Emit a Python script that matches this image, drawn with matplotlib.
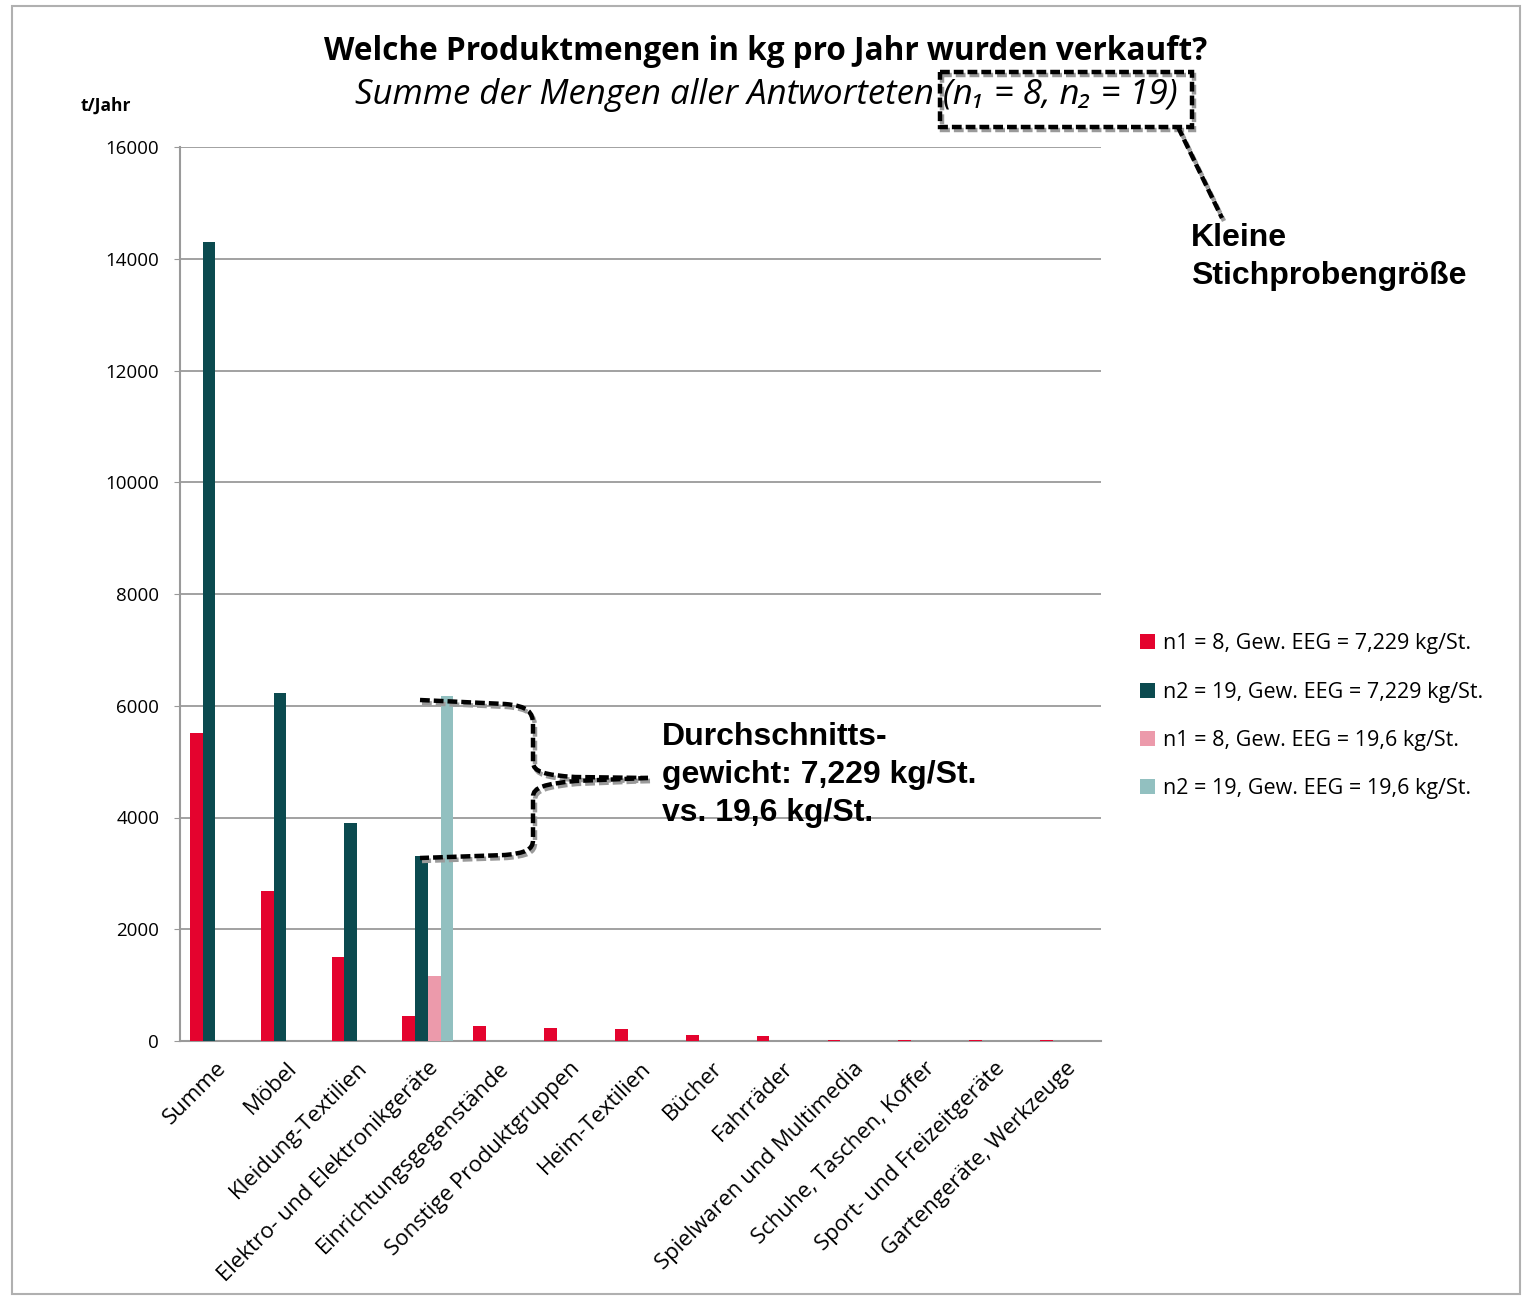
import matplotlib
matplotlib.use('Agg')
import matplotlib.pyplot as plt
import numpy as np
from matplotlib.path import Path
from matplotlib.patches import PathPatch, Rectangle

# Daten
kategorien = ['Summe', 'Möbel', 'Kleidung-Textilien', 'Elektro- und Elektronikgeräte',
              'Einrichtungsgegenstände', 'Sonstige Produktgruppen', 'Heim-Textilien',
              'Bücher', 'Fahrräder', 'Spielwaren und Multimedia', 'Schuhe, Taschen, Koffer',
              'Sport- und Freizeitgeräte', 'Gartengeräte, Werkzeuge']
n1_7229 = [5510, 2680, 1500, 450, 265, 238, 222, 100, 85, 15, 12, 15, 12]
n2_7229 = [14300, 6220, 3900, 3310, 0, 0, 0, 0, 0, 0, 0, 0, 0]
n1_196 = [0, 0, 0, 1170, 0, 0, 0, 0, 0, 0, 0, 0, 0]
n2_196 = [0, 0, 0, 6180, 0, 0, 0, 0, 0, 0, 0, 0, 0]

labels = ['n1 = 8, Gew. EEG = 7,229 kg/St.', 'n2 = 19, Gew. EEG = 7,229 kg/St.',
          'n1 = 8, Gew. EEG = 19,6 kg/St.', 'n2 = 19, Gew. EEG = 19,6 kg/St.']
farben = ['#E4032E', '#0B4A4F', '#EC9AAB', '#92C0C0']
yticks = [0, 2000, 4000, 6000, 8000, 10000, 12000, 14000, 16000]

W, H = 1522, 1296
fig = plt.figure(figsize=(W / 100, H / 100), dpi=100)

def px(x, y):
    return (x / W, 1 - y / H)

ax = fig.add_axes([180 / W, 1 - 1041 / H, (1101 - 180) / W, (1041 - 147) / H])

x = np.arange(len(kategorien))
bw = 0.18
serien = [n1_7229, n2_7229, n1_196, n2_196]
for i, (werte, farbe, lab) in enumerate(zip(serien, farben, labels)):
    ax.bar(x + (i - 1.5) * bw, werte, width=bw, color=farbe, label=lab, zorder=3)

ax.set_xlim(-0.5, len(kategorien) - 0.5)
ax.set_ylim(0, 16000)
ax.set_yticks(yticks)
ax.set_yticklabels([str(v) for v in yticks], fontsize=13.5, family='Open Sans')
ax.set_xticks(x)
ax.set_xticklabels(kategorien, rotation=45, ha='right', rotation_mode='anchor',
                   fontsize=16, family='Open Sans')
ax.tick_params(axis='x', length=0, pad=12)
ax.tick_params(axis='y', length=4, color='#999999', pad=11)
ax.grid(axis='y', color='#9a9a9a', linewidth=1.3, zorder=0)
for s in ['top', 'right']:
    ax.spines[s].set_visible(False)
for s in ['left', 'bottom']:
    ax.spines[s].set_color('#9a9a9a')
    ax.spines[s].set_linewidth(1.5)

# Legende
leg = fig.legend(loc='upper left', bbox_to_anchor=px(1121, 614), frameon=False,
                 prop={'family': 'Open Sans', 'size': 15.5}, handlelength=0.7,
                 handleheight=0.7, handletextpad=0.35, labelspacing=1.27)

# Titel
fig.text(*px(766, 52), 'Welche Produktmengen in kg pro Jahr wurden verkauft?',
         ha='center', va='center', fontsize=22.7, fontweight='bold', family='Open Sans')
fig.text(*px(1178, 95), 'Summe der Mengen aller Antworteten (n₁ = 8, n₂ = 19)',
         ha='right', va='center', fontsize=25, style='italic',
         family=['Open Sans', 'DejaVu Sans'])
fig.text(*px(106, 106), 't/Jahr', ha='center', va='center', fontsize=12.5,
         fontweight='bold', family='Open Sans')

# Hinweise
fig.text(*px(1191, 257), 'Kleine\nStichprobengröße', ha='left', va='center',
         fontsize=23, fontweight='bold', family='Liberation Sans', linespacing=1.33)
fig.text(*px(662, 775), 'Durchschnitts-\ngewicht: 7,229 kg/St.\nvs. 19,6 kg/St.',
         ha='left', va='center', fontsize=23, fontweight='bold', family='Liberation Sans',
         linespacing=1.33)

def gestrichelt(punkte, codes):
    for farbe, dx, dy in [('#9a9a9a', 2, 3), ('black', 0, 0)]:
        verts = [px(a + dx, b + dy) for a, b in punkte]
        patch = PathPatch(Path(verts, codes), facecolor='none', edgecolor=farbe,
                          linewidth=3.2, linestyle=(0, (2.2, 0.9)),
                          transform=fig.transFigure)
        fig.add_artist(patch)

M, L, C = Path.MOVETO, Path.LINETO, Path.CURVE4
# Kasten um (n1, n2)
gestrichelt([(940, 72), (1192, 72), (1192, 127), (940, 127), (940, 72)], [M, L, L, L, L])
gestrichelt([(1178, 127), (1222, 218)], [M, L])
# Klammer
gestrichelt([(420, 700), (505, 704), (528, 706), (533, 712), (533, 725), (533, 762),
             (533, 772), (545, 775), (575, 777), (648, 778)],
            [M, L, C, C, C, L, C, C, C, L])
gestrichelt([(648, 778), (575, 781), (545, 784), (533, 787), (533, 797), (533, 840),
             (533, 850), (525, 853), (505, 855), (420, 858)],
            [M, L, C, C, C, L, C, C, C, L])

# Rahmen
fig.add_artist(Rectangle(px(12, 1294), (1508) / W, (1294 - 6) / H, fill=False,
                         edgecolor='#b0b0b0', linewidth=1.5, transform=fig.transFigure))

fig.savefig('out.png', dpi=100)
